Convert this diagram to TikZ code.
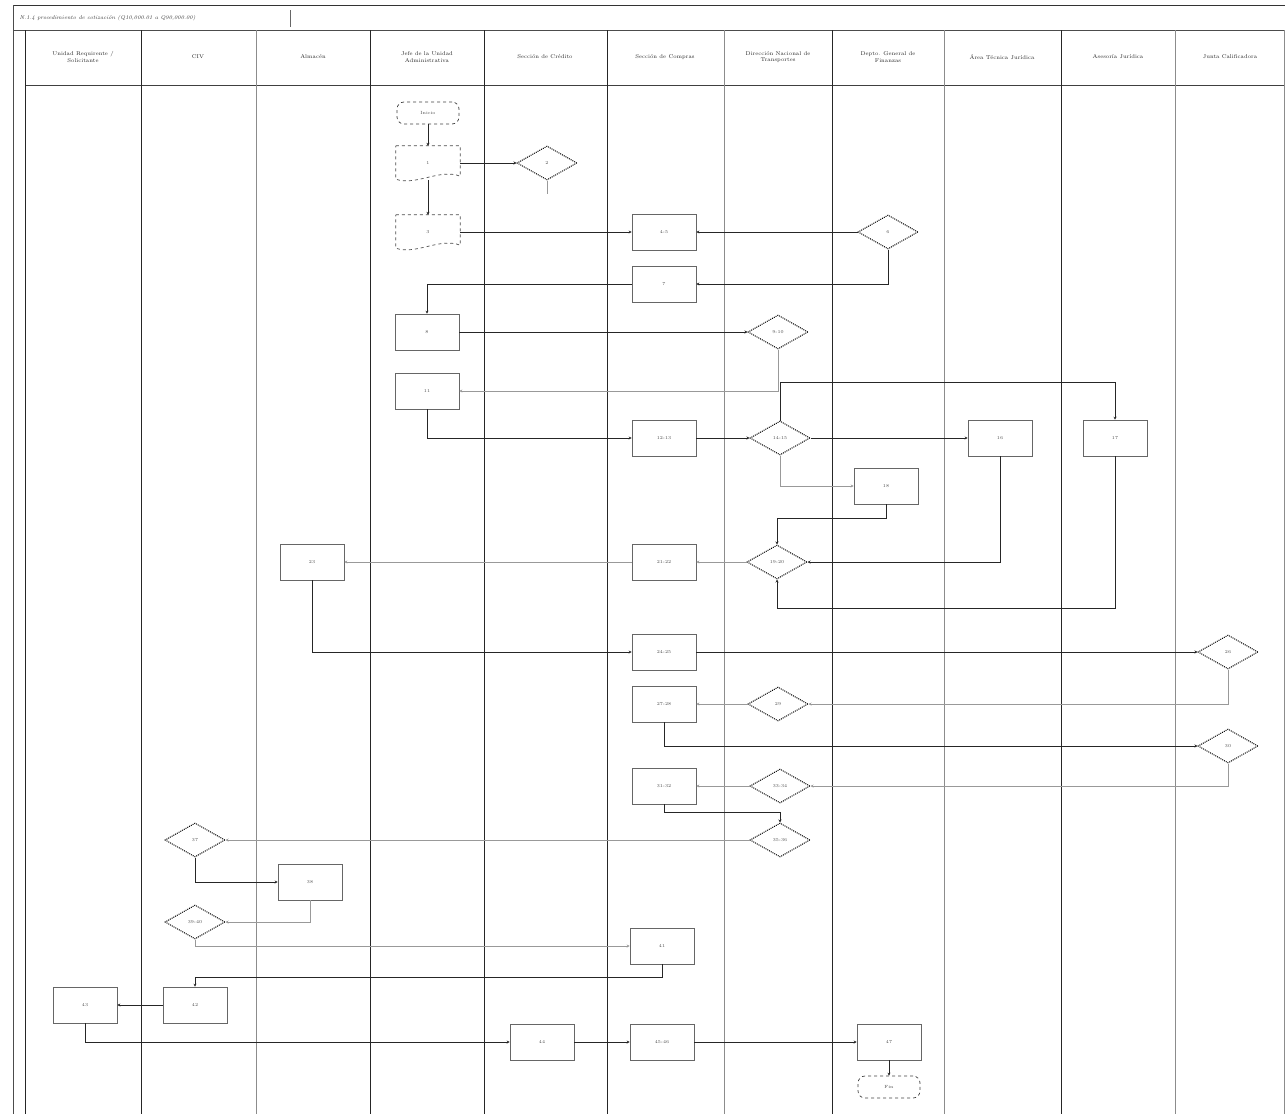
\documentclass[tikz,border=0pt]{standalone}
\usetikzlibrary{shapes.geometric,arrows.meta,calc}
\begin{document}
\begin{tikzpicture}[x=1pt,y=-1pt,
  lane/.style={line width=0.9pt,black!85},
  lanegray/.style={line width=0.7pt,black!45},
  hdr/.style={font=\fontsize{5.5}{6.5}\selectfont,align=center,text=black!85},
  boxnode/.style={draw=black!60,line width=0.6pt,minimum width=64pt,minimum height=36pt,inner sep=1pt,font=\fontsize{4.5}{5}\selectfont,text=black!70},
  docnode/.style={minimum width=64pt,minimum height=34pt,inner sep=1pt,font=\fontsize{4.5}{5}\selectfont,text=black!70},
  decnode/.style={diamond,draw=black,densely dotted,line width=1pt,minimum width=60pt,minimum height=34pt,inner sep=0pt,font=\fontsize{4.5}{5}\selectfont,text=black!70},
  termnode/.style={draw=black!75,dashed,line width=0.7pt,rounded corners=7pt,minimum width=62pt,minimum height=22pt,inner sep=1pt,font=\fontsize{4.5}{5}\selectfont,text=black!70},
  flow/.style={line width=1pt,black!85,-{Stealth[length=3pt,width=3pt]}},
  flowg/.style={line width=0.6pt,black!40,-{Stealth[length=3pt,width=3pt]}},
  flowplain/.style={line width=0.6pt,black!40}
]
\useasboundingbox (0,0) rectangle (1285,1114);
% frame and title
\draw[line width=1pt,black!80] (13,5) -- (1285,5);
\draw[line width=0.8pt,black!70] (13,5) -- (13,1114);
\draw[line width=0.8pt,black!70] (13,30) -- (1285,30);
\draw[line width=0.6pt,black!60] (290,10) -- (290,27);
\node[anchor=west,font=\fontsize{5.5}{6.5}\selectfont\itshape,text=black!80] (title) at (16,18) {N.1.4 procedimiento de cotización (Q10,000.01 a Q90,000.00)};
% header row
\draw[line width=0.8pt,black!75] (25,85) -- (1285,85);
% lanes
\draw[lane] (25,30) -- (25,1114);
\draw[lane] (141,30) -- (141,1114);
\draw[lanegray] (256,30) -- (256,1114);
\draw[lane] (370,30) -- (370,1114);
\draw[lane] (484,30) -- (484,1114);
\draw[lane] (607,30) -- (607,1114);
\draw[lanegray] (724,30) -- (724,1114);
\draw[lane] (832,30) -- (832,1114);
\draw[lanegray] (944,30) -- (944,1114);
\draw[lane] (1061,30) -- (1061,1114);
\draw[lanegray] (1175,30) -- (1175,1114);
\draw[lanegray] (1284,30) -- (1284,1114);
% headers
\node[hdr] (h1) at (83,57) {Unidad Requirente /\\Solicitante};
\node[hdr] (h2) at (198,57) {CIV};
\node[hdr] (h3) at (313,57) {Almacén};
\node[hdr] (h4) at (427,57) {Jefe de la Unidad\\Administrativa};
\node[hdr] (h5) at (545,57) {Sección de Crédito};
\node[hdr] (h6) at (665,57) {Sección de Compras};
\node[hdr] (h7) at (778,57) {Dirección Nacional de\\Transportes};
\node[hdr] (h8) at (888,57) {Depto. General de\\Finanzas};
\node[hdr] (h9) at (1002,57) {Área Técnica Jurídica};
\node[hdr] (h10) at (1118,57) {Asesoría Jurídica};
\node[hdr] (h11) at (1230,57) {Junta Calificadora};

% nodes
\node[termnode] (ini) at (428,113) {Inicio};
\node[docnode] (d1) at (428,163) {1};
\node[decnode] (dia2) at (547,163) {2};
\node[docnode] (d3) at (428,232) {3};
\node[boxnode] (b4) at (664,232) {4-5};
\node[decnode] (dia5) at (888,232) {6};
\node[boxnode] (b6) at (664,284) {7};
\node[boxnode] (b7) at (427,332) {8};
\node[decnode] (dia8) at (778,332) {9-10};
\node[boxnode] (b9) at (427,391) {11};
\node[boxnode] (b10) at (664,438) {12-13};
\node[decnode] (dia11) at (780,438) {14-15};
\node[boxnode] (b12) at (1000,438) {16};
\node[boxnode] (b13) at (1115,438) {17};
\node[boxnode] (b14) at (886,486) {18};
\node[decnode] (dia15) at (777,562) {19-20};
\node[boxnode] (b16) at (664,562) {21-22};
\node[boxnode] (b17) at (312,562) {23};
\node[boxnode] (b18) at (664,652) {24-25};
\node[decnode] (dia19) at (1228,652) {26};
\node[boxnode] (b20) at (664,704) {27-28};
\node[decnode] (dia21) at (778,704) {29};
\node[decnode] (dia22) at (1228,746) {30};
\node[boxnode] (b24) at (664,786) {31-32};
\node[decnode] (dia23) at (780,786) {33-34};
\node[decnode] (dia25) at (780,840) {35-36};
\node[decnode] (dia26) at (195,840) {37};
\node[boxnode] (b27) at (310,882) {38};
\node[decnode] (dia28) at (195,922) {39-40};
\node[boxnode] (b29) at (662,946) {41};
\node[boxnode] (b30) at (195,1005) {42};
\node[boxnode] (b31) at (85,1005) {43};
\node[boxnode] (b32) at (542,1042) {44};
\node[boxnode] (b33) at (662,1042) {45-46};
\node[boxnode] (b34) at (889,1042) {47};
\node[termnode] (fin) at (889,1087) {Fin};

% document outlines
\foreach \d in {d1,d3}{
  \draw[black!70,line width=0.7pt,dashed]
    (\d.north west) -- (\d.north east) -- ($(\d.south east)+(0,-4)$)
    .. controls ($(\d.south)+(12,-12)$) and ($(\d.south)+(-12,6)$) .. ($(\d.south west)+(0,-1)$)
    -- cycle;
}
\coordinate (c2) at (547,194);

% connectors
\draw[flow] (ini.south) -- (d1.north);
\draw[flow] (d1.east) -- (dia2.west);
\draw[flowplain] (dia2.south) -- (c2);
\draw[flow] (d1.south) -- (d3.north);
\draw[flow] (d3.east) -- (b4.west);
\draw[flow] (dia5.west) -- (b4.east);
\draw[flow] (dia5.south) |- (b6.east);
\draw[flow] (b6.west) -| (b7.north);
\draw[flow] (b7.east) -- (dia8.west);
\draw[flowg] (dia8.south) |- (b9.east);
\draw[flow] (b9.south) |- (b10.west);
\draw[flow] (b10.east) -- (dia11.west);
\draw[flow] (dia11.east) -- (b12.west);
\draw[flow] (dia11.north) -- ++(0,-38) -| (b13.north);
\draw[flowg] (dia11.south) |- (b14.west);
\draw[flow] (b14.south) -- ++(0,14) -| (dia15.north);
\draw[flow] (b12.south) |- (dia15.east);
\draw[flow] (b13.south) -- ++(0,152) -| (dia15.south);
\draw[flowg] (dia15.west) -- (b16.east);
\draw[flowg] (b16.west) -- (b17.east);
\draw[flow] (b17.south) |- (b18.west);
\draw[flow] (b18.east) -- (dia19.west);
\draw[flowg] (dia19.south) |- (dia21.east);
\draw[flowg] (dia21.west) -- (b20.east);
\draw[flow] (b20.south) |- (dia22.west);
\draw[flowg] (dia22.south) |- (dia23.east);
\draw[flowg] (dia23.west) -- (b24.east);
\draw[flow] (b24.south) -- ++(0,8) -| (dia25.north);
\draw[flowg] (dia25.west) -- (dia26.east);
\draw[flow] (dia26.south) |- (b27.west);
\draw[flowg] (b27.south) |- (dia28.east);
\draw[flowg] (dia28.south) |- (b29.west);
\draw[flow] (b29.south) -- ++(0,13) -| (b30.north);
\draw[flow] (b30.west) -- (b31.east);
\draw[flow] (b31.south) |- (b32.west);
\draw[flow] (b32.east) -- (b33.west);
\draw[flow] (b33.east) -- (b34.west);
\draw[flow] (b34.south) -- (fin.north);
\end{tikzpicture}
\end{document}
